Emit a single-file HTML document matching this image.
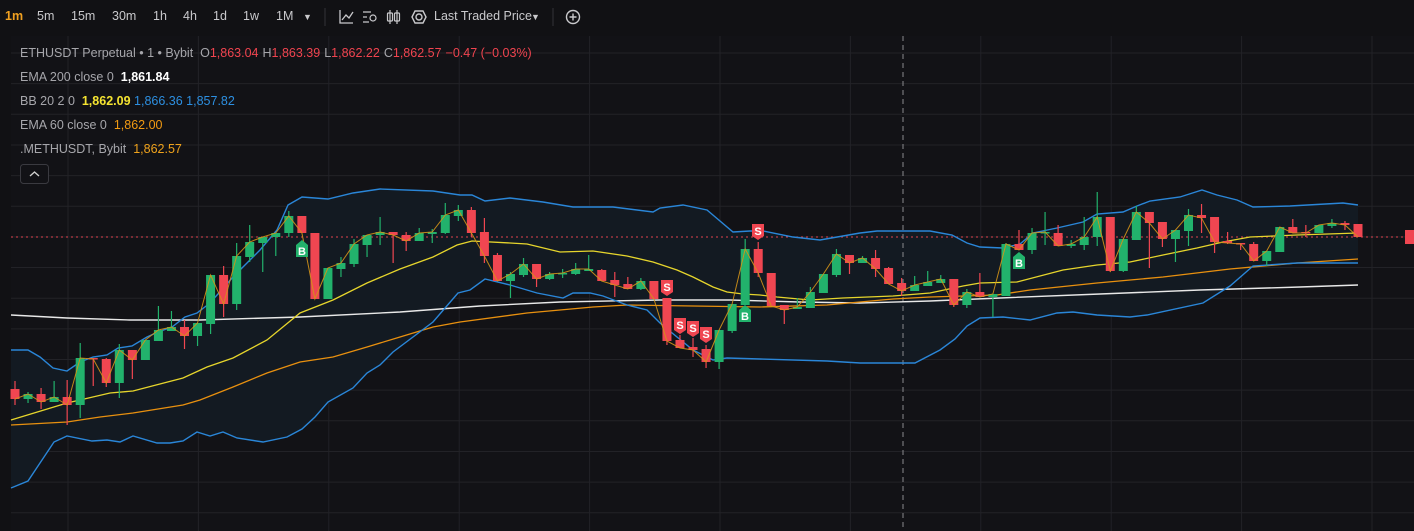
<!DOCTYPE html>
<html><head><meta charset="utf-8">
<style>
html,body{margin:0;padding:0;background:#111114;width:1414px;height:531px;overflow:hidden;font-family:"Liberation Sans","DejaVu Sans",sans-serif;}
#wrap{position:relative;width:1414px;height:531px;}
svg{position:absolute;left:0;top:0;}
.tb{position:absolute;top:9px;font-size:12.5px;color:#c9c9cc;white-space:nowrap;}
.lg{position:absolute;left:20px;font-size:12.5px;color:#a6a6ab;white-space:nowrap;}
.v{margin-left:4px;}
</style></head><body><div id="wrap">
<svg id="s" width="1414" height="531" xmlns="http://www.w3.org/2000/svg"></svg>
<div class="tb" style="left:5px;color:#f0a020;font-weight:bold">1m</div>
<div class="tb" style="left:37px">5m</div>
<div class="tb" style="left:71px">15m</div>
<div class="tb" style="left:112px">30m</div>
<div class="tb" style="left:153px">1h</div>
<div class="tb" style="left:183px">4h</div>
<div class="tb" style="left:213px">1d</div>
<div class="tb" style="left:243px">1w</div>
<div class="tb" style="left:276px">1M</div>
<div class="tb" style="left:303px;font-size:9px;top:12px">▼</div>
<div class="tb" style="left:434px">Last Traded Price</div>
<div class="tb" style="left:531px;font-size:9px;top:12px">▼</div>
<div class="lg" style="top:46px">ETHUSDT Perpetual • 1 • Bybit &nbsp;O<span style="color:#f0444f">1,863.04</span><span class="v">H</span><span style="color:#f0444f">1,863.39</span><span class="v">L</span><span style="color:#f0444f">1,862.22</span><span class="v">C</span><span style="color:#f0444f">1,862.57</span><span class="v" style="color:#f0444f">−0.47 (−0.03%)</span></div>
<div class="lg" style="top:70px">EMA 200 close 0 &nbsp;<span style="color:#fff;font-weight:bold">1,861.84</span></div>
<div class="lg" style="top:94px">BB 20 2 0 &nbsp;<span style="color:#f5e431;font-weight:bold">1,862.09</span> <span style="color:#2d8fe0">1,866.36</span> <span style="color:#2d8fe0">1,857.82</span></div>
<div class="lg" style="top:118px">EMA 60 close 0 &nbsp;<span style="color:#f29a12">1,862.00</span></div>
<div class="lg" style="top:142px">.METHUSDT, Bybit &nbsp;<span style="color:#f0a31c">1,862.57</span></div>
</div>
<script>
const S=document.getElementById('s');const NS='http://www.w3.org/2000/svg';
function el(t,a){const e=document.createElementNS(NS,t);for(const k in a)e.setAttribute(k,a[k]);S.appendChild(e);return e;}
el('rect',{x:11,y:36,width:1403,height:495,fill:'#121216'});
for(let y=53;y<531;y+=30.65)el('line',{x1:11,x2:1414,y1:y,y2:y,stroke:'#222227','stroke-width':1});
for(let x=68;x<1414;x+=130.4)el('line',{x1:x,x2:x,y1:36,y2:531,stroke:'#222227','stroke-width':1});
const up=[[11,350],[28,350],[40,357],[53,368],[67,371],[80,362],[93,357],[107,355],[118,348],[132,346],[147,337],[158,332],[172,327],[185,317],[197,313],[210,303],[233,277],[260,250],[277,230],[288,205],[302,197],[328,199],[353,193],[380,189],[433,191],[460,195],[472,195],[485,201],[510,198],[543,202],[573,207],[613,207],[653,212],[660,208],[683,205],[707,210],[733,232],[750,231],[763,231],[793,237],[820,240],[860,233],[877,231],[930,231],[952,235],[967,243],[980,247],[1003,248],[1020,244],[1033,233],[1057,228],[1083,222],[1097,214],[1123,212],[1137,206],[1150,201],[1180,197],[1202,190],[1217,195],[1237,200],[1253,207],[1290,206],[1343,203],[1358,205]];
const lo=[[11,488],[28,481],[40,463],[54,442],[67,436],[92,441],[107,440],[120,442],[133,436],[157,443],[170,443],[183,441],[197,432],[210,436],[223,432],[237,438],[263,442],[287,437],[302,429],[315,417],[328,402],[353,388],[367,373],[380,365],[393,352],[433,322],[458,293],[470,290],[485,279],[510,285],[537,293],[563,298],[573,293],[590,293],[603,296],[627,305],[647,310],[660,323],[677,337],[693,350],[713,360],[727,358],[760,359],[827,361],[860,363],[915,363],[940,350],[955,339],[967,326],[980,318],[1003,317],[1030,320],[1057,313],[1073,312],[1097,315],[1130,317],[1147,315],[1203,303],[1230,286],[1253,266],[1297,263],[1358,263]];
const mid=[[11,420],[67,403],[110,393],[133,391],[183,378],[207,367],[233,358],[267,340],[300,313],[333,300],[367,283],[400,269],[433,257],[457,245],[472,241],[510,243],[527,244],[560,252],[593,251],[627,256],[653,262],[677,270],[693,277],[713,287],[727,292],[743,294],[760,295],[777,297],[810,300],[843,298],[893,296],[930,293],[963,286],[980,283],[1017,282],[1063,270],[1097,265],[1130,262],[1163,255],[1197,248],[1223,242],[1250,237],[1297,235],[1358,233]];
const e60=[[11,425],[67,422],[100,417],[133,413],[183,405],[200,400],[233,387],[267,373],[300,362],[333,357],[367,347],[400,337],[433,327],[460,322],[527,313],[593,307],[627,305],[693,306],[760,307],[827,305],[893,299],[930,297],[997,295],[1030,290],[1097,283],[1163,277],[1230,269],[1297,263],[1358,259]];
const e200=[[11,315],[67,318],[130,320],[200,320],[300,317],[400,312],[480,306],[560,302],[660,300],[730,300],[800,302],[860,303],[930,301],[1000,298],[1100,294],[1200,290],[1300,287],[1358,285]];
const P=a=>a.map(p=>p.join(',')).join(' ');
el('polygon',{points:P(up)+' '+P(lo.slice().reverse()),fill:'#131a22'});
el('line',{x1:11,x2:1414,y1:237,y2:237,stroke:'#e0434f','stroke-width':1,'stroke-dasharray':'2,3'});
el('line',{x1:903,x2:903,y1:36,y2:531,stroke:'#8a8a8e','stroke-width':1,'stroke-dasharray':'5,4'});
el('polyline',{points:P(e200),fill:'none',stroke:'#e8e8e8','stroke-width':1.4});
el('polyline',{points:P(e60),fill:'none',stroke:'#e8900f','stroke-width':1.3});
el('polyline',{points:P(mid),fill:'none',stroke:'#e6d52c','stroke-width':1.3});
el('polyline',{points:P(up),fill:'none',stroke:'#2a86d8','stroke-width':1.4});
el('polyline',{points:P(lo),fill:'none',stroke:'#2a86d8','stroke-width':1.4});
const C=[['r',389,399,381,405],['g',394,399,392,403],['r',394,402,388,409],['g',397,402,381,402],['r',397,405,380,425],['g',358,405,343,418],['r',358,359,358,386],['r',359,383,358,387],['g',350,383,344,398],['r',350,360,350,379],['g',340,360,340,360],['g',330,341,306,341],['g',327,331,311,331],['r',327,336,320,349],['g',323,336,323,346],['g',275,324,275,334],['r',275,304,266,317],['g',256,304,243,310],['g',242,257,225,262],['g',237,243,237,272],['g',233,237,233,256],['g',216,233,211,237],['r',216,233,216,233],['r',233,299,233,299],['g',268,299,268,299],['g',263,269,257,277],['g',244,264,239,267],['g',235,245,235,257],['g',232,235,217,245],['r',232,235,232,263],['r',235,241,232,251],['g',233,241,228,241],['g',232,234,229,243],['g',215,233,203,234],['g',210,216,205,221],['r',210,233,207,237],
['r',232,256,218,263],['r',255,281,253,281],['g',274,281,272,298],['g',264,275,258,277],['r',264,279,264,287],['g',274,279,272,280],['g',273,274,269,278],['g',269,274,263,275],['g',269,271,255,271],['r',270,281,269,281],['r',280,285,272,297],['r',284,289,277,289],['g',281,289,278,290],['r',281,299,281,299],['r',298,341,298,345],['r',340,348,335,348],['r',347,350,338,357],['r',349,362,345,368],['g',330,362,330,369],['g',304,331,304,333],['g',249,305,239,305],['r',249,273,242,277],['r',273,306,273,306],['r',305,310,305,324],['g',307,309,298,309],['g',292,308,287,308],['g',274,293,274,293],['g',254,275,249,277],['r',255,263,255,274],['g',258,263,256,263],['r',258,269,250,277],['r',268,284,267,284],['r',283,291,278,296],['g',285,291,276,291],['g',282,286,271,286],
['g',279,283,275,283],['r',279,305,279,307],['g',292,305,289,308],['r',292,297,273,297],['g',294,297,294,317],['g',244,296,243,296],['r',244,250,230,250],['g',233,250,228,254],['g',232,233,212,245],['r',233,246,225,246],['g',244,246,240,248],['g',237,245,217,250],['g',217,237,192,246],['r',217,271,217,272],['g',239,271,239,272],['g',212,240,206,240],['r',212,223,212,268],['r',222,239,222,247],['g',230,239,230,262],['g',215,231,209,246],['r',215,218,204,233],['r',217,242,217,253],['r',241,243,232,244],['r',243,244,243,250],['r',244,261,242,261],['g',251,261,251,266],['g',227,252,227,252],['r',227,233,219,233],['r',232,233,225,237],['g',225,233,225,233],['g',223,226,219,228],['r',223,225,221,230],['r',224,237,224,237]];
const dx=1343/103;const closes=[];
C.forEach((c,i)=>{const x=15+i*dx;const col=c[0]=='g'?'#22b26c':'#f04651';
el('line',{x1:x,x2:x,y1:c[3],y2:c[4],stroke:col,'stroke-width':1.2});
el('rect',{x:x-4.5,y:c[1],width:9,height:Math.max(1.5,c[2]-c[1]),fill:col});
closes.push([x.toFixed(1),c[0]=='g'?c[1]:c[2]]);});
el('polyline',{points:P(closes),fill:'none',stroke:'#d49418','stroke-width':1,opacity:0.9});
function tag(x,y,t,g){const col=g?'#22b26c':'#f04651';
 if(g)el('path',{d:`M${x-6} ${y+3}L${x} ${y-2}L${x+6} ${y+3}V${y+15}H${x-6}Z`,fill:col});
 else el('path',{d:`M${x-6} ${y}H${x+6}V${y+12}L${x} ${y+16}L${x-6} ${y+12}Z`,fill:col});
 const tx=el('text',{x:x,y:g?y+13:y+11,'text-anchor':'middle','font-size':'11','font-weight':'bold',fill:'#fff','font-family':'Liberation Sans,sans-serif'});tx.textContent=t;}
tag(302,242,'B',1);tag(745,307,'B',1);tag(1019,254,'B',1);
tag(667,280,'S');tag(680,318,'S');tag(693,321,'S');tag(706,327,'S');tag(758,224,'S');
el('rect',{x:1405,y:230,width:9,height:14,fill:'#f04651'});
el('line',{x1:325,x2:325,y1:8,y2:26,stroke:'#333338'});el('line',{x1:553,x2:553,y1:8,y2:26,stroke:'#333338'});
el('path',{d:'M340 10V23H353M342 20L346 15L349 18L353 12',fill:'none',stroke:'#c9c9cc','stroke-width':1.3});
el('path',{d:'M363 12H371M363 17H367M363 22H369',fill:'none',stroke:'#c9c9cc','stroke-width':1.3});
el('circle',{cx:373,cy:18,r:3,fill:'none',stroke:'#c9c9cc','stroke-width':1.2});
el('path',{d:'M390 10V24M397 10V24',stroke:'#c9c9cc','stroke-width':1.2});
el('rect',{x:387.5,y:13,width:5,height:8,fill:'none',stroke:'#c9c9cc','stroke-width':1.2,rx:1});
el('rect',{x:394.5,y:13,width:5,height:8,fill:'none',stroke:'#c9c9cc','stroke-width':1.2,rx:1});
el('polygon',{points:'412,17 415,11 423,11 426,17 423,23 415,23',fill:'none',stroke:'#c9c9cc','stroke-width':1.4});
el('circle',{cx:419,cy:17,r:3,fill:'none',stroke:'#c9c9cc','stroke-width':1.4});
el('circle',{cx:573,cy:17,r:6.5,fill:'none',stroke:'#c9c9cc','stroke-width':1.4});
el('path',{d:'M573 13.5V20.5M569.5 17H576.5',stroke:'#c9c9cc','stroke-width':1.4});
el('rect',{x:20.5,y:164.5,width:28,height:19,rx:3,fill:'#121216',stroke:'#3a3a40'});
el('path',{d:'M30 176L34.5 172L39 176',fill:'none',stroke:'#d0d0d0','stroke-width':1.4});
</script>
</body></html>
